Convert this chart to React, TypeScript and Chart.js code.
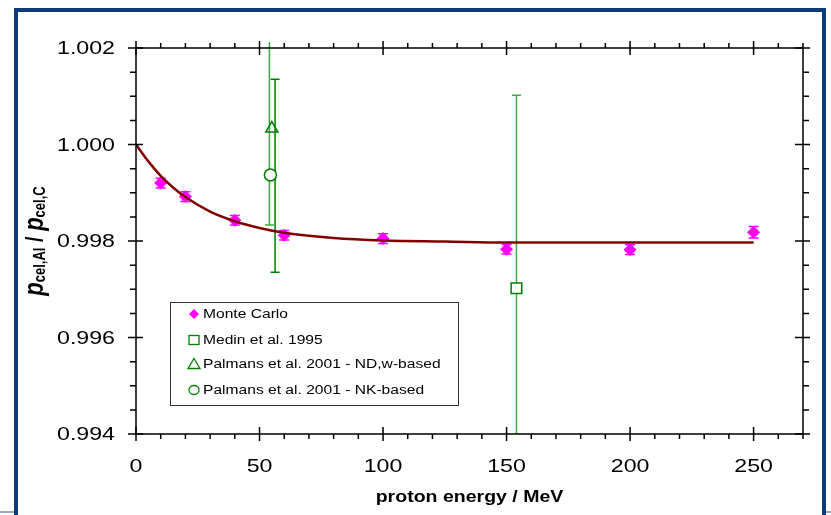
import React, { useEffect, useRef } from "react";
import { Chart, registerables } from "chart.js";

Chart.register(...registerables);

// ---- data ----
const mcX = [10, 20, 40, 60, 100, 150, 200, 250];
const mcY = [0.9992, 0.99892, 0.99843, 0.99812, 0.99805, 0.99783, 0.99782, 0.99818];
const mcErr = [0.0001, 0.0001, 0.0001, 0.0001, 0.0001, 0.0001, 0.0001, 0.00012];

const fitX = [0, 5, 10, 15, 20, 30, 40, 50, 60, 80, 100, 125, 150, 200, 250];
const fitY = [1.0, 0.99965, 0.99935, 0.99911, 0.99891, 0.99861, 0.99841, 0.99827, 0.99817, 0.99806, 0.99801, 0.99799, 0.99797, 0.99797, 0.99797];

const medinX = [154];
const medinY = [0.99702];
const medinBarX = [154];
const medinLo = [0.99302];
const medinHi = [1.00102];

const ndwX = [55];
const ndwY = [1.00033];
const ndwBarX = [54];
const ndwLo = [0.99833];
const ndwHi = [1.00233];

const nkX = [54.4];
const nkY = [0.99937];
const nkBarX = [56.3];
const nkLo = [0.99735];
const nkHi = [1.00135];

const xMajor = [0, 50, 100, 150, 200, 250];
const xMajorLabels = ["0", "50", "100", "150", "200", "250"];
const yMajor = [0.994, 0.996, 0.998, 1.0, 1.002];
const yMajorLabels = ["0.994", "0.996", "0.998", "1.000", "1.002"];
const xMinorStep = 10;
const yMinorStep = 0.0005;

const legendLabels = [
  "Monte Carlo",
  "Medin et al. 1995",
  "Palmans et al. 2001 - ND,w-based",
  "Palmans et al. 2001 - NK-based",
];

const FONT = "'Liberation Sans', Arial, sans-serif";
const SX = 1.22; // horizontal stretch of the original picture
const GREEN = "#008000";
const GREEN_LIGHT = "#3fa83f";
const MAGENTA = "#FF00FF";

function stretchedText(ctx: CanvasRenderingContext2D, text: string, x: number, y: number, align: CanvasTextAlign, sx = SX) {
  ctx.save();
  ctx.translate(x, y);
  ctx.scale(sx, 1);
  ctx.textAlign = align;
  ctx.fillText(text, 0, 0);
  ctx.restore();
}

const axesPlugin = {
  id: "customAxes",
  beforeDatasetsDraw(chart: any) {
    const ctx: CanvasRenderingContext2D = chart.ctx;
    const xs = chart.scales.x;
    const ys = chart.scales.y;
    const a = chart.chartArea;
    const bars: { x: number[]; lo: number[]; hi: number[]; color: string; w: number }[] = [
      { x: medinBarX, lo: medinLo, hi: medinHi, color: GREEN_LIGHT, w: 1.5 },
      { x: ndwBarX, lo: ndwLo, hi: ndwHi, color: GREEN_LIGHT, w: 1.5 },
      { x: nkBarX, lo: nkLo, hi: nkHi, color: GREEN, w: 1.5 },
      { x: mcX, lo: mcY.map((v, i) => v - mcErr[i]), hi: mcY.map((v, i) => v + mcErr[i]), color: MAGENTA, w: 1.5 },
    ];
    ctx.save();
    ctx.beginPath();
    ctx.rect(a.left, a.top - 6, a.right - a.left, a.bottom - a.top + 6);
    ctx.clip();
    for (const b of bars) {
      ctx.strokeStyle = b.color;
      ctx.lineWidth = b.w;
      for (let i = 0; i < b.x.length; i++) {
        const px = xs.getPixelForValue(b.x[i]);
        const pLo = ys.getPixelForValue(b.lo[i]);
        const pHi = ys.getPixelForValue(b.hi[i]);
        ctx.beginPath();
        ctx.moveTo(px, pLo);
        ctx.lineTo(px, pHi);
        const cap = b.color === MAGENTA ? 5 : 4.5;
        if (b.lo[i] >= ys.min) {
          ctx.moveTo(px - cap, pLo);
          ctx.lineTo(px + cap, pLo);
        }
        if (b.hi[i] <= ys.max) {
          ctx.moveTo(px - cap, pHi);
          ctx.lineTo(px + cap, pHi);
        }
        ctx.stroke();
      }
    }
    ctx.restore();
  },
  afterDraw(chart: any) {
    const ctx: CanvasRenderingContext2D = chart.ctx;
    const xs = chart.scales.x;
    const ys = chart.scales.y;
    const a = chart.chartArea;
    ctx.save();
    ctx.strokeStyle = "#000";
    ctx.lineWidth = 1.5;
    ctx.beginPath();
    ctx.rect(a.left, a.top, a.right - a.left, a.bottom - a.top);
    ctx.stroke();
    ctx.beginPath();
    const MJ = 7;
    const MN = 5;
    for (let v = 0; v <= xs.max + 1e-9; v += xMinorStep) {
      const px = xs.getPixelForValue(v);
      const major = xMajor.includes(v);
      if (major) {
        ctx.moveTo(px, a.bottom - MJ);
        ctx.lineTo(px, a.bottom + MJ);
        ctx.moveTo(px, a.top - MJ);
        ctx.lineTo(px, a.top + MJ);
      } else {
        ctx.moveTo(px, a.bottom);
        ctx.lineTo(px, a.bottom + MN);
        ctx.moveTo(px, a.top);
        ctx.lineTo(px, a.top - MN);
      }
    }
    const n = Math.round((ys.max - ys.min) / yMinorStep);
    for (let i = 0; i <= n; i++) {
      const v = ys.min + i * yMinorStep;
      const py = ys.getPixelForValue(v);
      const major = yMajor.some((m) => Math.abs(m - v) < 1e-7);
      if (major) {
        ctx.moveTo(a.left - MJ - 1, py);
        ctx.lineTo(a.left + MJ, py);
        ctx.moveTo(a.right - MJ - 1, py);
        ctx.lineTo(a.right + MJ, py);
      } else {
        ctx.moveTo(a.left, py);
        ctx.lineTo(a.left - MN - 1, py);
        ctx.moveTo(a.right, py);
        ctx.lineTo(a.right + MN + 1, py);
      }
    }
    ctx.stroke();

    ctx.fillStyle = "#000";
    ctx.font = `19px ${FONT}`;
    ctx.textBaseline = "middle";
    yMajor.forEach((v, i) => {
      stretchedText(ctx, yMajorLabels[i], a.left - 21, ys.getPixelForValue(v) + 1, "right");
    });
    xMajor.forEach((v, i) => {
      stretchedText(ctx, xMajorLabels[i], xs.getPixelForValue(v), a.bottom + 33, "center");
    });

    ctx.font = `bold 16px ${FONT}`;
    stretchedText(ctx, "proton energy / MeV", (a.left + a.right) / 2, a.bottom + 64, "center");

    ctx.save();
    ctx.translate(43, (a.top + a.bottom) / 2);
    ctx.rotate(-Math.PI / 2);
    ctx.scale(1, SX);
    ctx.textBaseline = "alphabetic";
    ctx.textAlign = "left";
    const runs: { t: string; f: string; dy: number }[] = [
      { t: "p", f: `italic bold 22px ${FONT}`, dy: 0 },
      { t: "cel,Al", f: `bold 13px ${FONT}`, dy: 2 },
      { t: " / ", f: `bold 20px ${FONT}`, dy: 0 },
      { t: "p", f: `italic bold 22px ${FONT}`, dy: 0 },
      { t: "cel,C", f: `bold 13px ${FONT}`, dy: 2 },
    ];
    let total = 0;
    for (const r of runs) {
      ctx.font = r.f;
      total += ctx.measureText(r.t).width;
    }
    let cx = -total / 2;
    for (const r of runs) {
      ctx.font = r.f;
      ctx.fillText(r.t, cx, r.dy);
      cx += ctx.measureText(r.t).width;
    }
    ctx.restore();

    const lx = 170, ly = 302, lw = 288, lh = 103;
    ctx.fillStyle = "#fff";
    ctx.fillRect(lx, ly, lw, lh);
    ctx.strokeStyle = "#333";
    ctx.lineWidth = 1;
    ctx.strokeRect(lx + 0.5, ly + 0.5, lw, lh);
    const rowsY = [314, 340, 364, 390];
    const mx = 194;
    ctx.fillStyle = MAGENTA;
    ctx.beginPath();
    ctx.moveTo(mx, rowsY[0] - 5);
    ctx.lineTo(mx + 5, rowsY[0]);
    ctx.lineTo(mx, rowsY[0] + 5);
    ctx.lineTo(mx - 5, rowsY[0]);
    ctx.closePath();
    ctx.fill();
    ctx.strokeStyle = GREEN;
    ctx.lineWidth = 1.3;
    ctx.strokeRect(mx - 5, rowsY[1] - 4.5, 10, 9);
    ctx.beginPath();
    ctx.moveTo(mx, rowsY[2] - 5.5);
    ctx.lineTo(mx + 6, rowsY[2] + 4.5);
    ctx.lineTo(mx - 6, rowsY[2] + 4.5);
    ctx.closePath();
    ctx.stroke();
    ctx.beginPath();
    ctx.ellipse(mx, rowsY[3], 5, 4.5, 0, 0, Math.PI * 2);
    ctx.stroke();
    ctx.fillStyle = "#000";
    ctx.font = `12px ${FONT}`;
    ctx.textBaseline = "middle";
    legendLabels.forEach((t, i) => stretchedText(ctx, t, 203, rowsY[i] + 1, "left", 1.3));
    ctx.restore();
  },
};

export default function App() {
  const ref = useRef<HTMLCanvasElement | null>(null);
  useEffect(() => {
    if (!ref.current) return;
    const toXY = (xs: number[], ys: number[]) => xs.map((x, i) => ({ x, y: ys[i] }));
    const chart = new Chart(ref.current, {
      type: "scatter",
      data: {
        datasets: [
          {
            type: "line",
            label: "fit",
            data: toXY(fitX, fitY),
            borderColor: "#800000",
            borderWidth: 2.5,
            pointRadius: 0,
            cubicInterpolationMode: "monotone",
            fill: false,
          } as any,
          {
            label: legendLabels[0],
            data: toXY(mcX, mcY),
            pointStyle: "rectRot",
            pointRadius: 6.5,
            backgroundColor: MAGENTA,
            borderColor: MAGENTA,
            borderWidth: 0,
          },
          {
            label: legendLabels[1],
            data: toXY(medinX, medinY),
            pointStyle: "rect",
            pointRadius: 7.5,
            backgroundColor: "#fff",
            borderColor: GREEN,
            borderWidth: 1.5,
          },
          {
            label: legendLabels[2],
            data: toXY(ndwX, ndwY),
            pointStyle: "triangle",
            pointRadius: 7,
            backgroundColor: "rgba(255,255,255,0)",
            borderColor: GREEN,
            borderWidth: 1.5,
          },
          {
            label: legendLabels[3],
            data: toXY(nkX, nkY),
            pointStyle: "circle",
            pointRadius: 6,
            backgroundColor: "#fff",
            borderColor: GREEN,
            borderWidth: 1.5,
          },
        ],
      },
      options: {
        animation: false,
        responsive: false,
        devicePixelRatio: 1,
        layout: { padding: { left: 136, right: 28, top: 48, bottom: 81 } },
        scales: {
          x: { type: "linear", min: 0, max: 270, display: false },
          y: { type: "linear", min: 0.994, max: 1.002, display: false },
        },
        plugins: { legend: { display: false }, tooltip: { enabled: false } },
        events: [],
      },
      plugins: [axesPlugin],
    });
    return () => chart.destroy();
  }, []);

  return (
    <div style={{ position: "absolute", left: 0, top: 0, width: 831, height: 515, background: "#fff", overflow: "hidden" }}>
      <canvas ref={ref} width={831} height={515} style={{ position: "absolute", left: 0, top: 0, width: 831, height: 515 }} />
      <div style={{ position: "absolute", left: 14, top: 8, width: 812, height: 4, background: "#0B3B78" }} />
      <div style={{ position: "absolute", left: 14, top: 8, width: 4, height: 515, background: "#0B3B78" }} />
      <div style={{ position: "absolute", left: 822, top: 8, width: 4, height: 515, background: "#0B3B78" }} />
      <div style={{ position: "absolute", left: 0, top: 511, width: 14, height: 2, background: "#8FAAD0" }} />
      <div style={{ position: "absolute", left: 826, top: 511, width: 5, height: 2, background: "#8FAAD0" }} />
    </div>
  );
}
